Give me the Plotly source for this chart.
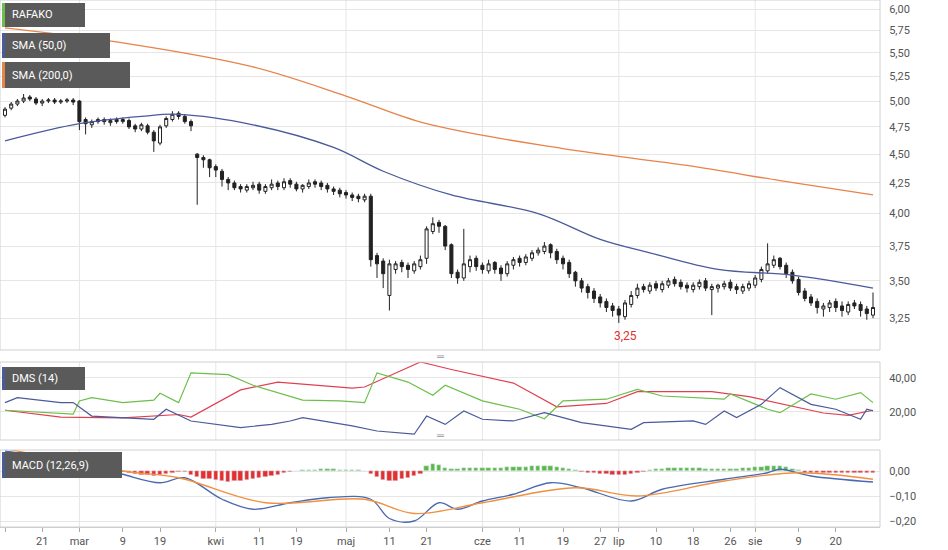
import plotly.graph_objects as go

opens = [4.86,4.93,4.97,5.00,5.04,5.02, 4.98,5.00,5.01,4.99,5.00,5.01, 5.00,4.82,4.77,4.80,4.82,4.79,4.82,4.80, 4.81,4.76,4.73,4.76,4.70,4.60, 4.76,4.82,4.88,4.85,4.80, 4.50,4.47,4.45,4.39,4.35,4.28, 4.25,4.22,4.19,4.21,4.24,4.18,4.21,4.25,4.21,4.27,4.24,4.20,4.22,4.26,4.25,4.23, 4.20,4.19,4.17,4.15,4.14,4.11,4.14, 3.68,3.64,3.40,3.58, 3.63,3.61,3.57,3.60, 3.66,3.86,3.93, 3.90,3.76,3.56,3.52,3.60, 3.66,3.61,3.57,3.63,3.59,3.55,3.61,3.66,3.63,3.66,3.70,3.71,3.76, 3.71,3.66,3.63,3.56,3.50,3.46,3.43,3.39,3.36, 3.33,3.31,3.26,3.34, 3.40,3.46,3.43,3.48,3.44,3.47,3.51,3.49,3.47,3.44,3.46,3.50,3.44,3.45,3.46,3.49,3.46,3.43,3.45, 3.47,3.51,3.57,3.61,3.66,3.61, 3.56,3.51,3.43,3.39,3.36, 3.31,3.32,3.36,3.33,3.29,3.35,3.34,3.31,3.27]
highs = [4.94,4.99,5.02,5.07,5.06,5.04,5.02,5.03,5.03,5.02,5.03,5.03, 5.01,4.84,4.82,4.84,4.84,4.83,4.84,4.84, 4.83,4.78,4.79,4.78,4.72,4.77, 4.85,4.90,4.90,4.87,4.82, 4.51,4.49,4.46,4.41,4.37,4.30, 4.27,4.24,4.24,4.26,4.26,4.24,4.28,4.27,4.29,4.29,4.26,4.24,4.28,4.28,4.27,4.25, 4.22,4.21,4.19,4.17,4.16,4.16,4.16, 3.70,3.66,3.65,3.64, 3.65,3.63,3.64,3.68, 3.90,3.97,3.95, 3.91,3.77,3.58,3.88,3.68, 3.68,3.63,3.65,3.64,3.61,3.64,3.67,3.68,3.69,3.72,3.74,3.78,3.77, 3.73,3.68,3.65,3.57,3.52,3.48,3.45,3.41,3.38, 3.35,3.33,3.37,3.43, 3.48,3.48,3.49,3.50,3.50,3.52,3.53,3.51,3.49,3.49,3.51,3.52,3.48,3.48,3.50,3.51,3.48,3.48,3.50, 3.54,3.60,3.77,3.68,3.67,3.63, 3.58,3.53,3.45,3.41,3.38, 3.35,3.37,3.38,3.36,3.36,3.37,3.36,3.33,3.42]
lows = [4.84,4.91,4.95,4.98,5.00,4.96,4.95,4.98,4.97,4.97,4.98,4.96, 4.72,4.68,4.74,4.78,4.77,4.76,4.78,4.78, 4.73,4.70,4.71,4.68,4.52,4.58, 4.74,4.80,4.82,4.78,4.71, 4.07,4.38,4.30,4.30,4.22,4.19, 4.19,4.17,4.17,4.19,4.16,4.16,4.19,4.19,4.19,4.21,4.18,4.17,4.20,4.21,4.19,4.17, 4.15,4.13,4.12,4.10,4.09,4.09,3.60, 3.52,3.45,3.30,3.55, 3.56,3.52,3.55,3.58, 3.62,3.84,3.85, 3.72,3.52,3.48,3.50,3.56, 3.57,3.55,3.55,3.55,3.50,3.53,3.58,3.60,3.61,3.64,3.68,3.69,3.66, 3.62,3.58,3.52,3.46,3.42,3.38,3.35,3.32,3.29, 3.26,3.22,3.24,3.32, 3.38,3.42,3.41,3.43,3.42,3.45,3.46,3.44,3.42,3.42,3.44,3.43,3.27,3.42,3.44,3.43,3.41,3.41,3.43, 3.45,3.49,3.55,3.59,3.58,3.52, 3.48,3.40,3.36,3.33,3.28, 3.26,3.29,3.29,3.26,3.27,3.31,3.26,3.24,3.25]
closes = [4.92,4.97,5.00,5.03,5.02,4.98, 5.00,5.01,4.99,5.00,5.01,4.99, 4.80,4.78,4.80,4.82,4.80,4.81,4.80,4.82, 4.75,4.73,4.77,4.70,4.62,4.75, 4.83,4.87,4.85,4.80,4.76, 4.47,4.45,4.38,4.36,4.28,4.25, 4.21,4.20,4.22,4.23,4.19,4.22,4.24,4.22,4.26,4.24,4.20,4.23,4.25,4.24,4.22,4.20, 4.18,4.16,4.15,4.13,4.12,4.14,3.65, 3.62,3.55,3.62,3.62, 3.60,3.58,3.62,3.65, 3.88,3.92,3.90, 3.75,3.55,3.52,3.62,3.65, 3.60,3.58,3.62,3.58,3.55,3.62,3.65,3.63,3.67,3.70,3.72,3.75,3.70, 3.65,3.62,3.55,3.50,3.45,3.42,3.38,3.35,3.32, 3.30,3.27,3.35,3.40, 3.45,3.44,3.47,3.45,3.48,3.50,3.48,3.46,3.45,3.47,3.49,3.45,3.46,3.47,3.48,3.45,3.44,3.46,3.48, 3.52,3.58,3.62,3.65,3.60,3.55, 3.50,3.42,3.38,3.35,3.32, 3.33,3.35,3.32,3.30,3.34,3.33,3.30,3.28,3.32]
bar_idx = list(range(len(closes)))

sma200_x = [0,20,40,55,68,90,110,125,140]
sma200_y = [5.78,5.60,5.35,5.05,4.78,4.55,4.40,4.27,4.15]
sma50_x = [0,12,22,28,40,53,61,72,86,96,104,115,127,140]
sma50_y = [4.62,4.78,4.85,4.87,4.77,4.56,4.35,4.15,4.00,3.80,3.70,3.58,3.54,3.45]

dms_red_x = [0,9,19,28,30,38,44,50,56,58,67,72,82,89,97,102,114,120,126,132,136,140]
dms_red_y = [21,17,16.5,18.5,17,33,37.6,36,34,34.7,49.4,45,37,23,25,32,32,29,24,19.4,18,21]
dms_green_x = [0,11,12,14,19,24,25,28,30,36,40,48,54,58,60,65,69,71,77,83,87,90,97,102,106,116,117,123,125,130,134,138,140]
dms_green_y = [21,18.7,26.5,28.4,25.5,27,31,25.5,43,42,35.7,27,26.5,25.5,43,37.6,29.8,35.7,26.5,21.6,16,26.5,27.5,33.3,29.4,27.5,30.6,21.6,19.6,30.6,27.5,31.4,25.5]
dms_blue_x = [0,2,9,11,14,24,26,30,38,43,46,48,56,60,66,68,71,74,77,82,87,93,101,103,111,113,116,118,122,125,130,134,138,139,140]
dms_blue_y = [25.5,28.4,25.5,25.5,17.6,15.7,21.6,14.7,10.8,12.7,14.7,16.7,11.8,8.8,6.9,17.6,12.7,20.6,15.7,14.7,19.6,13.7,9.8,13.7,14.7,12.7,20.6,16.7,24.5,34.3,24.5,21.6,15.7,21.6,20.6]

macd_x = [0,14,19,25,29,35,40,46,52,59,62,66,70,73,77,82,88,93,101,106,116,123,125,130,140]
macd_y = [0.08,0.02,-0.013,-0.047,-0.027,-0.113,-0.153,-0.127,-0.107,-0.113,-0.19,-0.20,-0.127,-0.153,-0.12,-0.093,-0.047,-0.067,-0.12,-0.073,-0.033,-0.007,0.007,-0.02,-0.044]
signal_x = [0,19,28,42,58,66,77,92,102,116,128,140]
signal_y = [0.09,0.0,-0.027,-0.127,-0.113,-0.17,-0.127,-0.067,-0.10,-0.04,-0.007,-0.033]
hist = [-0.010,-0.012,-0.010,-0.008,-0.006,-0.005,-0.004,-0.004,-0.005,-0.006,-0.007,-0.008,
        -0.010,-0.012,-0.013,-0.012,-0.010,-0.008,-0.006,-0.005,
        -0.008,-0.012,-0.015,-0.016,-0.018,-0.015,-0.010,-0.006,-0.003,-0.002,
        -0.015,-0.025,-0.030,-0.033,-0.036,-0.040,-0.042,-0.041,-0.038,-0.034,-0.030,-0.026,-0.022,-0.018,-0.014,
        -0.006,-0.003,-0.001,
        0.003,0.004,0.006,0.008,0.009,0.008,0.006,0.005,0.004,0.003,0.002,
        -0.012,-0.025,-0.035,-0.040,-0.038,-0.032,-0.026,-0.018,-0.010,
        0.020,0.028,0.025,0.012,0.008,
        0.008,0.012,0.014,0.012,0.011,0.012,0.013,0.014,0.015,0.016,0.017,0.018,0.019,0.020,0.020,0.019,0.017,0.013,0.008,0.004,
        -0.004,-0.007,-0.009,-0.011,-0.013,-0.015,-0.016,-0.014,-0.010,-0.006,-0.002,
        0.004,0.008,0.010,0.011,0.012,0.012,0.012,0.011,0.011,0.010,0.010,0.010,0.009,0.009,0.010,0.011,0.012,
        0.015,0.018,0.020,0.022,0.020,0.016,0.010,0.004,
        -0.006,-0.008,-0.009,-0.008,-0.007,-0.007,-0.006,-0.006,-0.006,-0.006,-0.006,-0.006]

tick_pos = [0,6,12,19,25,34,41,47,55,62,68,77,83,90,96,99,105,111,117,121,128,134]
tick_text = ["lut","21","mar","9","19","kwi","11","19","maj","11","21","cze","11","19","27","lip","10","18","26","sie","9","20"]
month_pos = [12,34,55,77,99,121]
price_ticks = [3.25,3.5,3.75,4.0,4.25,4.5,4.75,5.0,5.25,5.5,5.75,6.0]

def px(X): return X / 948
def py(Y): return 1 - Y / 550

fig = go.Figure()
fig.add_trace(go.Candlestick(x=bar_idx, open=opens, high=highs, low=lows, close=closes,
    increasing=dict(line=dict(color="#222", width=1), fillcolor="white"),
    decreasing=dict(line=dict(color="#222", width=1), fillcolor="#222"),
    whiskerwidth=0, xaxis="x", yaxis="y", showlegend=False))
fig.add_trace(go.Scatter(x=sma200_x, y=sma200_y, mode="lines", line=dict(color="#e8834a", width=1.3, shape="spline"), xaxis="x", yaxis="y"))
fig.add_trace(go.Scatter(x=sma50_x, y=sma50_y, mode="lines", line=dict(color="#4a5a9a", width=1.3, shape="spline"), xaxis="x", yaxis="y"))

fig.add_trace(go.Scatter(x=dms_red_x, y=dms_red_y, mode="lines", line=dict(color="#e04050", width=1.2), xaxis="x2", yaxis="y2"))
fig.add_trace(go.Scatter(x=dms_green_x, y=dms_green_y, mode="lines", line=dict(color="#6cbf4a", width=1.2), xaxis="x2", yaxis="y2"))
fig.add_trace(go.Scatter(x=dms_blue_x, y=dms_blue_y, mode="lines", line=dict(color="#4a5a9a", width=1.2), xaxis="x2", yaxis="y2"))

fig.add_trace(go.Bar(x=bar_idx, y=hist, marker_color=["#5cb84a" if v > 0 else "#e03030" for v in hist],
                     width=0.7, xaxis="x3", yaxis="y3"))
fig.add_trace(go.Scatter(x=macd_x, y=macd_y, mode="lines", line=dict(color="#4a6ab0", width=1.3, shape="spline"), xaxis="x3", yaxis="y3"))
fig.add_trace(go.Scatter(x=signal_x, y=signal_y, mode="lines", line=dict(color="#f09040", width=1.3, shape="spline"), xaxis="x3", yaxis="y3"))

xr = [-5 / 6.2, (880 - 5) / 6.2]
xdom = [0, px(880)]
common_x = dict(range=xr, showgrid=False, zeroline=False, showticklabels=False, domain=xdom)
axfont = dict(family="Roboto", size=11, color="#555")
d1 = [py(350), 1.0]
d2 = [py(440), py(362)]
d3 = [py(527), py(450)]
ycommon = dict(side="right", tickfont=axfont, gridcolor="#e6e6e6", zeroline=False,
               ticks="outside", ticklen=6, tickcolor="rgba(0,0,0,0)", tickformat=".2f")
fig.update_layout(
    width=948, height=550, margin=dict(l=0, r=0, t=0, b=0), separators=", ",
    paper_bgcolor="white", plot_bgcolor="white", showlegend=False, bargap=0,
    xaxis=dict(**common_x, rangeslider=dict(visible=False)),
    xaxis2=dict(**common_x, matches="x"),
    xaxis3=dict(range=xr, showgrid=False, zeroline=False, domain=xdom, matches="x", anchor="y3",
                tickvals=tick_pos, ticktext=tick_text, ticks="outside", ticklen=4, tickcolor="#aaa",
                tickfont=axfont, showline=True, linecolor="#ccc"),
    yaxis=dict(type="log", range=[0.4845, 0.786], domain=d1, anchor="x", tickvals=price_ticks, **ycommon),
    yaxis2=dict(range=[3.5, 49.4], domain=d2, anchor="x2", tickvals=[20, 40], **ycommon),
    yaxis3=dict(range=[-0.224, 0.084], domain=d3, anchor="x3", tickvals=[-0.2, -0.1, 0], **ycommon),
)

shapes = []
for yr in [d1, d2, d3]:
    for m in month_pos:
        shapes.append(dict(type="line", xref="x", yref="paper", x0=m, x1=m, y0=yr[0], y1=yr[1],
                           line=dict(color="#e6e6e6", width=1), layer="below"))
    shapes.append(dict(type="rect", xref="paper", yref="paper", x0=0, x1=xdom[1], y0=yr[0], y1=yr[1],
                       line=dict(color="#d0d0d0", width=1)))
shapes.append(dict(type="rect", xref="x", yref="y", x0=55.9, x1=140.4, y0=0.5037, y1=0.5821,
                   line=dict(color="#333", width=1)))
shapes.append(dict(type="circle", xref="x", yref="y", x0=94.5, x1=105.7, y0=0.486, y1=0.510,
                   line=dict(color="#222", width=1.3)))
shapes.append(dict(type="circle", xref="x", yref="y", x0=128, x1=138.7, y0=0.492, y1=0.510,
                   line=dict(color="#222", width=1.3)))

def label(text, x0, x1, ytop, ybot, col):
    shapes.append(dict(type="rect", xref="paper", yref="paper", x0=px(x0), x1=px(x1),
                       y0=py(ybot), y1=py(ytop), fillcolor="#5a5a5a", line=dict(width=0)))
    shapes.append(dict(type="rect", xref="paper", yref="paper", x0=px(x0), x1=px(x0 + 3),
                       y0=py(ybot), y1=py(ytop), fillcolor=col, line=dict(width=0)))
    fig.add_annotation(text=text, xref="paper", yref="paper", x=px(x0 + 8), y=py((ytop + ybot) / 2),
                       xanchor="left", yanchor="middle", showarrow=False,
                       font=dict(family="Roboto", size=11, color="white"))

label("RAFAKO", 2, 85, 3, 27, "#6cbf4a")
label("SMA (50,0)", 2, 110, 33, 58, "#4a5a9a")
label("SMA (200,0)", 2, 130, 62, 88, "#e8834a")
label("DMS (14)", 2, 85, 367, 390, "#4a5a9a")
label("MACD (12,26,9)", 2, 122, 452, 478, "#4a5a9a")

fig.add_annotation(text="3,25", xref="x", yref="y", x=100, y=0.4965, showarrow=False,
                   font=dict(family="Roboto", size=12, color="#e03030"))
for yy in [356, 444]:
    fig.add_annotation(text="═", xref="paper", yref="paper", x=px(440), y=py(yy), showarrow=False,
                       font=dict(size=10, color="#999"))

fig.update_layout(shapes=shapes)
fig.write_html("out.html", config={"displayModeBar": False},
               post_script="document.body.style.margin='0';document.body.style.overflow='hidden';")
